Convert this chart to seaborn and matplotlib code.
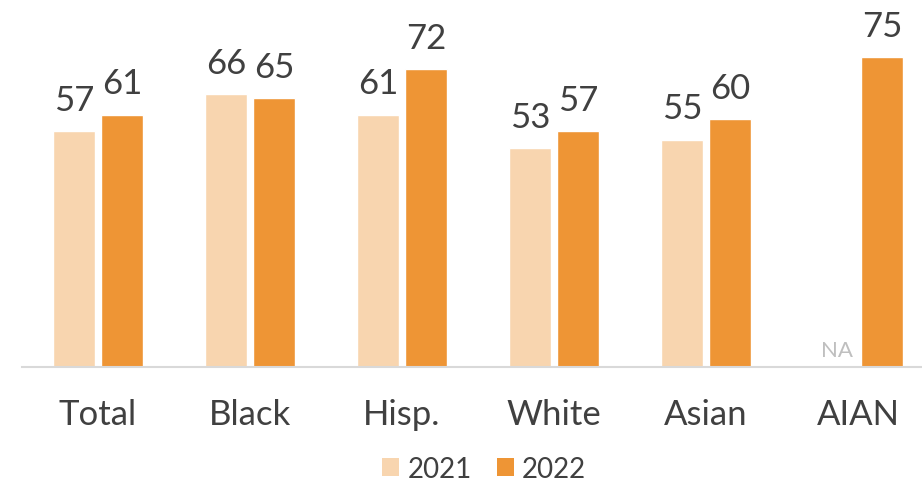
import numpy as np
import pandas as pd
import matplotlib
matplotlib.use("Agg")
import matplotlib.pyplot as plt
import seaborn as sns
from matplotlib.patches import Patch

categories = ["Total", "Black", "Hisp.", "White", "Asian", "AIAN"]
years = ["2021", "2022"]
values_2021 = [57, 66, 61, 53, 55, np.nan]
values_2022 = [61, 65, 72, 57, 60, 75]

colors = {"2021": "#F8D5AF", "2022": "#EE9535"}
text_color = "#404040"

df = pd.DataFrame({
    "group": categories * 2,
    "year": [years[0]] * len(categories) + [years[1]] * len(categories),
    "value": values_2021 + values_2022,
})

sns.set_theme(style="white")
plt.rcParams["font.family"] = ["Lato", "DejaVu Sans"]

fig = plt.figure(figsize=(9.22, 4.85), dpi=100)
ax = fig.add_axes([22 / 922, 117 / 485, 900 / 922, 368 / 485])

sns.barplot(data=df, x="group", y="value", hue="year", order=categories,
            hue_order=years, palette=colors, width=0.632, gap=0.126,
            saturation=1, legend=False, ax=ax)

for cont in ax.containers:
    ax.bar_label(cont, fmt="%d", padding=11, fontsize=25, color=text_color)

# Missing value marker for AIAN 2021
na_idx = categories.index("AIAN")
ax.text(na_idx - 0.14, 1.8, "NA", ha="center", va="bottom",
        fontsize=16, color="#BFBFBF")

ax.set_ylim(0, 89)
ax.set_xlim(-0.5, -0.5 + 900 / 152)
ax.set_xlabel("")
ax.set_ylabel("")
ax.set_yticks([])
ax.tick_params(axis="x", length=0, pad=22, labelsize=25, labelcolor=text_color)
for side in ["top", "right", "left"]:
    ax.spines[side].set_visible(False)
ax.spines["bottom"].set_color("#D9D9D9")
ax.spines["bottom"].set_linewidth(1.5)

handles = [Patch(facecolor=colors[y], edgecolor="none", label=y) for y in years]
fig.legend(handles=handles, loc="center", bbox_to_anchor=(484 / 922, 1 - 470 / 485),
           ncol=2, frameon=False, fontsize=20, handlelength=0.62, handleheight=0.62,
           handletextpad=0.3, columnspacing=0.9, labelcolor=text_color)

fig.savefig("out.png", dpi=100)
